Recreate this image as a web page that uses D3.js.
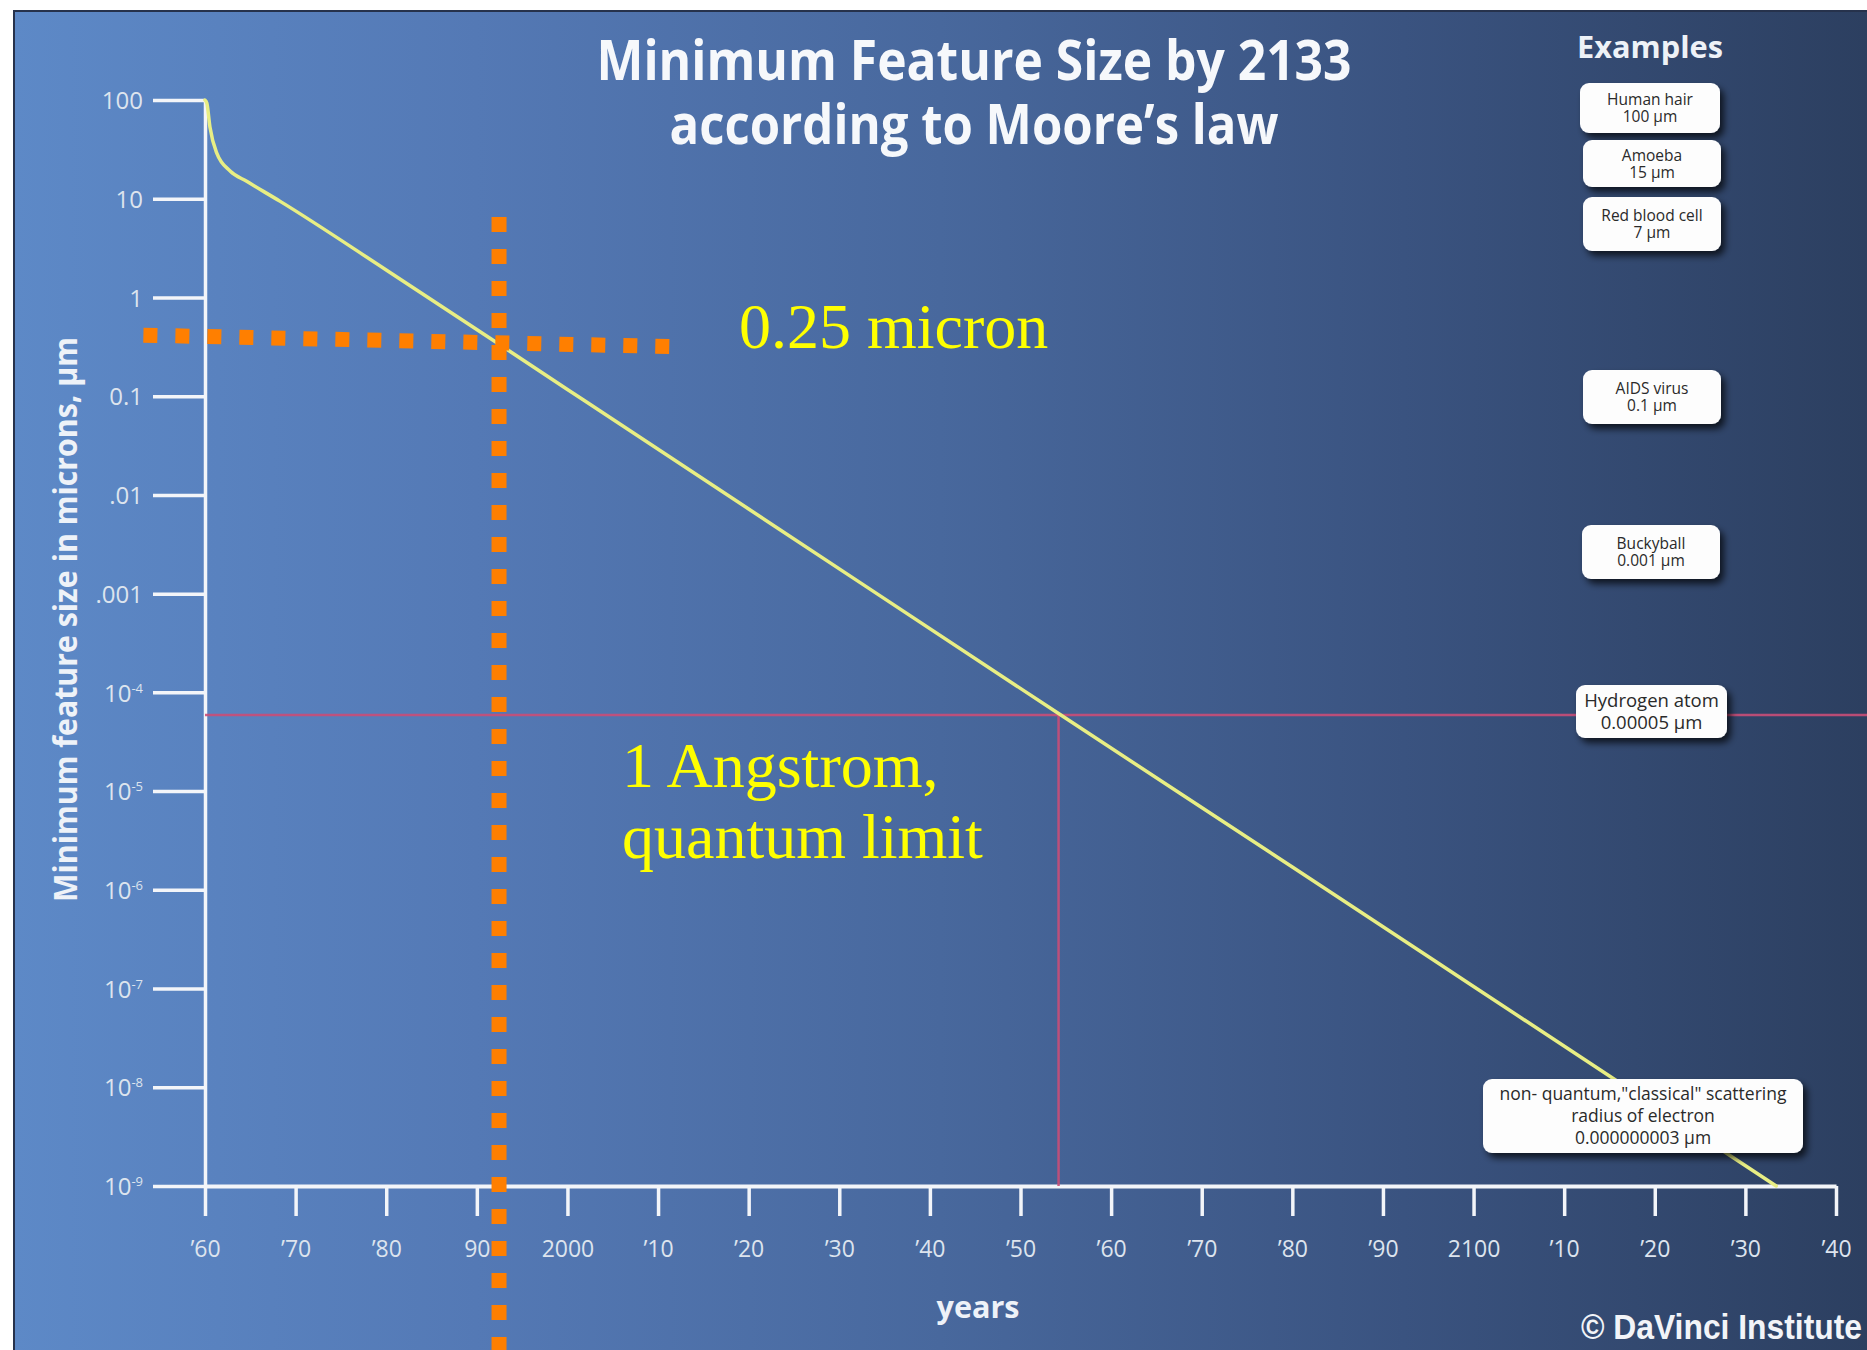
<!DOCTYPE html>
<html><head><meta charset="utf-8">
<script src="https://cdn.jsdelivr.net/npm/d3@7"></script>
<style>html,body{margin:0;padding:0;background:#fff;overflow:hidden}</style>
</head><body>
<svg id="chart" width="1867" height="1350"></svg>
<script>
// ---------------- data ----------------
const yearTicks = [1960,1970,1980,1990,2000,2010,2020,2030,2040,2050,2060,2070,2080,2090,2100,2110,2120,2130,2140];
const yearTickLabels = ["’60","’70","’80","90","2000","’10","’20","’30","’40","’50","’60","’70","’80","’90","2100","’10","’20","’30","’40"];
const sizeTicks = [100,10,1,0.1,0.01,0.001,1e-4,1e-5,1e-6,1e-7,1e-8,1e-9];
const sizeTickBase = ["100","10","1","0.1",".01",".001","10","10","10","10","10","10"];
const sizeTickExp  = ["","","","","","","-4","-5","-6","-7","-8","-9"];

// Moore's law curve (year, minimum feature size in µm)
const mooreYears = [1960, 1960.2, 1960.55, 1961.3, 1962.8, 1964.6, 1968.3, 1980, 2000, 2020, 2054.2, 2080, 2100, 2133.4];
const mooreSizes = [100, 93, 53, 29, 19.0, 15.0, 9.4, 1.9, 0.117, 7.2e-3, 6.1e-5, 1.7e-6, 1.05e-7, 1e-9];

// quantum limit (hydrogen atom) reference lines
const quantumLineSize = 5.9e-5;
const quantumLineYear = 2054.2;
const quantumLineStartYear = 1960;

// 0.25 micron annotation (orange dotted)
const micronLineYears = [1953.2, 2011.7];
const micronLineSizes = [0.415, 0.3175];
const micronVLineYear = 1992.45;
const micronVLineSizes = [6.53, 1e-11];

// examples
const exampleNames = ["Human hair","Amoeba","Red blood cell","AIDS virus","Buckyball","Hydrogen atom","non- quantum,\"classical\" scattering\nradius of electron"];
const exampleSizes = ["100 µm","15 µm","7 µm","0.1 µm","0.001 µm","0.00005 µm","0.000000003 µm"];

// text
const titleLines = ["Minimum Feature Size by 2133","according to Moore’s law"];
const yAxisTitle = "Minimum feature size in microns, µm";
const xAxisTitle = "years";
const examplesTitle = "Examples";
const micronLabel = "0.25 micron";
const angstromLabel = ["1 Angstrom,","quantum limit"];
const creditLabel = "© DaVinci Institute";

// ---------------- layout ----------------
const W = 1867, H = 1350;
const frame = {x:13, y:10};
const x = d3.scaleLinear().domain([1960, 2140]).range([205, 1836]);
const y = d3.scaleLog().domain([1e-9, 100]).range([1186, 100]);
const boxLayout = [
  {cx:1650, cy:108,  w:140, h:50, fs:15.5, lh:17},
  {cx:1652, cy:163.5,w:138, h:47, fs:15.5, lh:17},
  {cx:1652, cy:224,  w:138, h:54, fs:15.5, lh:17},
  {cx:1652, cy:397,  w:138, h:54, fs:15.5, lh:17},
  {cx:1651, cy:552,  w:138, h:54, fs:15.5, lh:17},
  {cx:1651.5,cy:711.5,w:151, h:53, fs:18.5, lh:22},
  {cx:1643, cy:1116, w:320, h:74, fs:17.5, lh:22}
];

const svg = d3.select("#chart");
const defs = svg.append("defs");
const grad = defs.append("linearGradient").attr("id","bg").attr("x1","0").attr("x2","1").attr("y1","0").attr("y2","0");
[[0,"#5d89c7"],[0.25,"#5479b5"],[0.5,"#48689d"],[0.75,"#3a5380"],[1,"#2c3f60"]].forEach(s=>{
  grad.append("stop").attr("offset",s[0]).attr("stop-color",s[1]);
});
const sh = defs.append("filter").attr("id","shadow").attr("x","-20%").attr("y","-30%").attr("width","150%").attr("height","180%");
sh.append("feDropShadow").attr("dx",4).attr("dy",5).attr("stdDeviation",3.5).attr("flood-color","#000").attr("flood-opacity",0.7);

svg.append("rect").attr("x",frame.x).attr("y",frame.y).attr("width",W-frame.x).attr("height",H-frame.y).attr("fill","url(#bg)");
svg.append("line").attr("x1",frame.x).attr("x2",W).attr("y1",frame.y+1).attr("y2",frame.y+1).attr("stroke","#26324c").attr("stroke-width",2);
svg.append("line").attr("x1",frame.x+1).attr("x2",frame.x+1).attr("y1",frame.y).attr("y2",H).attr("stroke","#26324c").attr("stroke-width",2);

// title
const title = svg.append("g");
title.selectAll("text").data(titleLines).join("text")
  .attr("x",974).attr("y",(d,i)=>i===0?80:144)
  .attr("text-anchor","middle")
  .attr("font-family","'Open Sans', sans-serif").attr("font-weight","bold").attr("font-size",56)
  .attr("fill","#f6f8fb")
  .attr("textLength",(d,i)=>i===0?755:609).attr("lengthAdjust","spacingAndGlyphs")
  .text(d=>d);

// y axis
const yAxis = svg.append("g").attr("transform",`translate(${x(1960)},0)`)
  .call(d3.axisLeft(y).tickValues(sizeTicks).tickSize(52).tickSizeOuter(0).tickFormat(()=>""));
yAxis.select(".domain").attr("stroke","#f3f5f9").attr("stroke-width",3.5);
yAxis.selectAll(".tick line").attr("stroke","#f3f5f9").attr("stroke-width",3.5);
yAxis.selectAll(".tick text").each(function(d,i){
  const t = d3.select(this).text("")
    .attr("x",-62).attr("dy","0.36em")
    .attr("font-family","'Open Sans', sans-serif").attr("font-size",24).attr("fill","#dde4ee");
  t.append("tspan").text(sizeTickBase[i]);
  if (sizeTickExp[i]) t.append("tspan").attr("dy",-9).attr("font-size",13).text(sizeTickExp[i]);
});

// x axis
const xAxis = svg.append("g").attr("transform",`translate(0,${y(1e-9)})`)
  .call(d3.axisBottom(x).tickValues(yearTicks).tickSize(30).tickSizeOuter(0).tickFormat((d,i)=>yearTickLabels[i]));
xAxis.select(".domain").attr("stroke","#f3f5f9").attr("stroke-width",4);
xAxis.selectAll(".tick line").attr("stroke","#f3f5f9").attr("stroke-width",3.5);
xAxis.selectAll(".tick text").attr("y",71).attr("dy",0)
  .attr("font-family","'Open Sans', sans-serif").attr("font-size",23).attr("fill","#dde4ee");

// axis titles
svg.append("text").attr("transform",`translate(77,619.5) rotate(-90)`)
  .attr("text-anchor","middle").attr("font-family","'Open Sans', sans-serif").attr("font-weight","bold")
  .attr("font-size",33).attr("fill","#eef2f8")
  .attr("textLength",565).attr("lengthAdjust","spacingAndGlyphs").text(yAxisTitle);
svg.append("text").attr("x",978).attr("y",1318).attr("text-anchor","middle")
  .attr("font-family","'Open Sans', sans-serif").attr("font-weight","bold").attr("font-size",31)
  .attr("fill","#eef2f8").attr("textLength",83).attr("lengthAdjust","spacingAndGlyphs").text(xAxisTitle);

// quantum limit lines (pink)
svg.append("line").attr("x1",x(quantumLineStartYear)).attr("x2",W)
  .attr("y1",y(quantumLineSize)).attr("y2",y(quantumLineSize))
  .attr("stroke","#c94e78").attr("stroke-width",2.5).attr("opacity",0.9);
svg.append("line").attr("x1",x(quantumLineYear)).attr("x2",x(quantumLineYear))
  .attr("y1",y(quantumLineSize)).attr("y2",y(1e-9))
  .attr("stroke","#c94e78").attr("stroke-width",2.5).attr("opacity",0.9);

// Moore's law line
const mooreData = mooreYears.map((yr,i)=>[yr, mooreSizes[i]]);
svg.append("path").datum(mooreData)
  .attr("d", d3.line().x(d=>x(d[0])).y(d=>y(d[1])).curve(d3.curveMonotoneX))
  .attr("fill","none").attr("stroke","#e8ee84").attr("stroke-width",3.5).attr("stroke-linecap","round");

// examples
svg.append("text").attr("x",1650).attr("y",58).attr("text-anchor","middle")
  .attr("font-family","'Open Sans', sans-serif").attr("font-weight","bold").attr("font-size",30)
  .attr("fill","#eef2f7").attr("textLength",146).attr("lengthAdjust","spacingAndGlyphs").text(examplesTitle);

const boxes = svg.append("g").selectAll("g").data(exampleNames).join("g");
boxes.each(function(name,i){
  const L = boxLayout[i];
  const g = d3.select(this);
  g.append("rect").attr("x",L.cx-L.w/2).attr("y",L.cy-L.h/2).attr("width",L.w).attr("height",L.h)
    .attr("rx",9).attr("fill","#fdfdfd").attr("filter","url(#shadow)");
  const lines = name.split("\n").concat([exampleSizes[i]]);
  const n = lines.length;
  const first = L.cy - (n-1)*L.lh/2 + L.fs*0.36;
  g.selectAll("text").data(lines).join("text")
    .attr("x",L.cx).attr("y",(d,j)=>first + j*L.lh)
    .attr("text-anchor","middle").attr("font-family","'Open Sans', sans-serif")
    .attr("font-size",L.fs).attr("fill","#2a2a2a").text(d=>d);
});

// orange dotted annotation lines
svg.append("line")
  .attr("x1",x(micronLineYears[0])).attr("y1",y(micronLineSizes[0]))
  .attr("x2",x(micronLineYears[1])).attr("y2",y(micronLineSizes[1]))
  .attr("stroke","#ff7f00").attr("stroke-width",15).attr("stroke-dasharray","14,18");
svg.append("line")
  .attr("x1",x(micronVLineYear)).attr("y1",y(micronVLineSizes[0]))
  .attr("x2",x(micronVLineYear)).attr("y2",y(micronVLineSizes[1]))
  .attr("stroke","#ff7f00").attr("stroke-width",15).attr("stroke-dasharray","15,17");

// yellow annotation text
const serif = "'Liberation Serif','Times New Roman',serif";
svg.append("text").attr("x",739).attr("y",347.5).attr("font-family",serif).attr("font-size",64)
  .attr("fill","#ffff00").text(micronLabel);
svg.selectAll("text.ang").data(angstromLabel).join("text").attr("class","ang")
  .attr("x",622).attr("y",(d,i)=>i===0?787:858).attr("font-family",serif).attr("font-size",64)
  .attr("fill","#ffff00").text(d=>d);

// credit
svg.append("text").attr("x",1862).attr("y",1339).attr("text-anchor","end")
  .attr("font-family","'Liberation Sans Narrow','Liberation Sans',Arial,sans-serif").attr("font-weight","bold")
  .attr("font-size",35).attr("fill","#f2f4f8")
  .attr("textLength",281).attr("lengthAdjust","spacingAndGlyphs").text(creditLabel);
</script>
</body></html>
